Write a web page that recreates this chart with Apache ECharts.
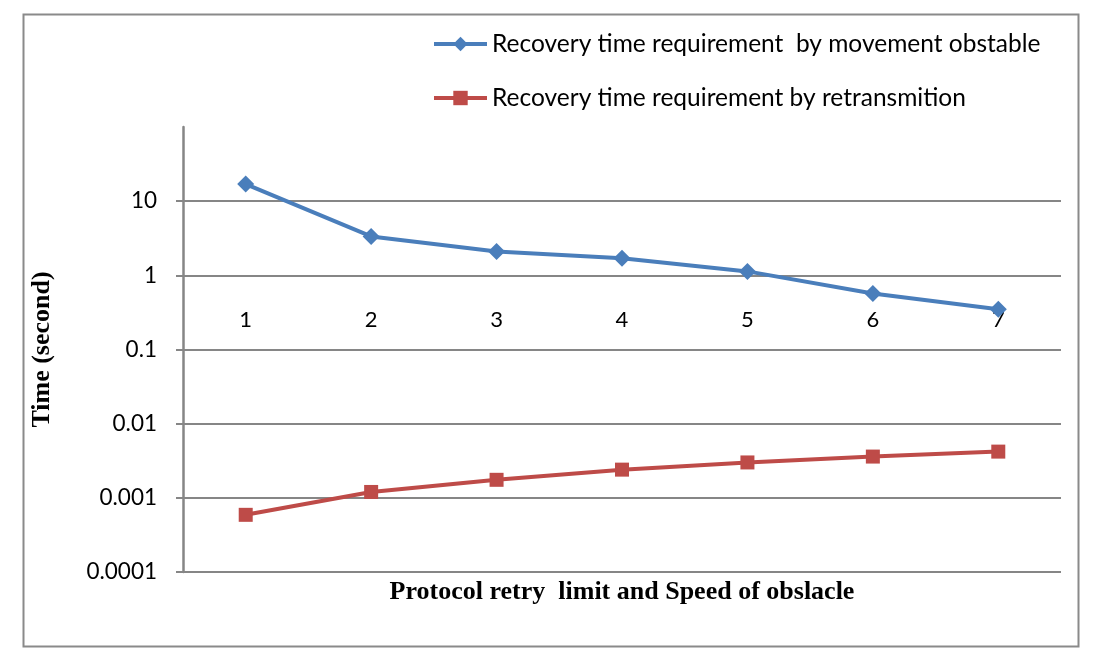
<!DOCTYPE html>
<html>
<head>
<meta charset="utf-8">
<script src="https://cdn.jsdelivr.net/npm/echarts@6/dist/echarts.min.js"></script>
<style>html,body{margin:0;padding:0;background:#fff}#c{width:1095px;height:664px}</style>
</head>
<body>
<div id="c"></div>
<script>
const categories = ['1', '2', '3', '4', '5', '6', '7'];
const movementSeriesName = 'Recovery time requirement  by movement obstable';
const retransSeriesName = 'Recovery time requirement by retransmition';
const movementValues = [17, 3.35, 2.1, 1.7, 1.13, 0.57, 0.35];
const retransValues = [0.00059, 0.0012, 0.00175, 0.0024, 0.003, 0.0036, 0.0042];
const yTickLabels = ['0.0001', '0.001', '0.01', '0.1', '1', '10', '100'];
const yAxisTitle = 'Time (second)';
const xAxisTitle = 'Protocol retry  limit and Speed of obslacle';

const chart = echarts.init(document.getElementById('c'), null, {renderer: 'canvas'});
const grey = '#868686';
const tickFont = 'Lato, "Open Sans", sans-serif';
chart.setOption({
  animation: false,
  backgroundColor: '#fff',
  grid: {left: 183, right: 34, top: 127, bottom: 92, containLabel: false, outerBoundsMode: 'none'},
  legend: {
    orient: 'vertical', left: 427, top: 26, itemWidth: 53, itemHeight: 18, itemGap: 28,
    lineStyle: {width: 4},
    textStyle: {fontFamily: tickFont, fontSize: 24.5, lineHeight: 26, color: '#000'},
    data: [movementSeriesName, retransSeriesName]
  },
  xAxis: {
    type: 'category', data: categories, boundaryGap: true, position: 'bottom', offset: -296,
    axisLine: {show: false}, axisTick: {show: false},
    axisLabel: {margin: 33, fontFamily: tickFont, fontSize: 22, color: '#000'},
    splitLine: {show: false}
  },
  yAxis: {
    type: 'log', logBase: 10, min: 0.0001, max: 100,
    name: yAxisTitle, nameLocation: 'middle', nameRotate: 90, nameGap: 128,
    nameTextStyle: {fontFamily: '"Liberation Serif", "DejaVu Serif", serif', fontWeight: 'bold', fontSize: 26, color: '#000'},
    axisLine: {show: true, lineStyle: {color: grey, width: 2.5}},
    axisTick: {show: true, length: 7, lineStyle: {color: grey, width: 2}},
    axisLabel: {margin: 26, fontFamily: tickFont, fontSize: 22.5, color: '#000', showMaxLabel: false,
      formatter: function (v) {
        const i = Math.round(Math.log10(v)) + 4;
        return yTickLabels[i] !== undefined ? yTickLabels[i] : '';
      }},
    splitLine: {show: true, showMaxLine: false, lineStyle: {color: grey, width: 2}}
  },
  series: [
    {
      name: movementSeriesName, type: 'line', data: movementValues,
      symbol: 'diamond', symbolSize: 17,
      lineStyle: {color: '#4A7EBB', width: 4},
      itemStyle: {color: '#4A7EBB'}
    },
    {
      name: retransSeriesName, type: 'line', data: retransValues,
      symbol: 'rect', symbolSize: 14,
      lineStyle: {color: '#BE4B48', width: 4},
      itemStyle: {color: '#BE4B48'}
    }
  ],
  graphic: [
    {type: 'rect', left: 21, top: 12, shape: {width: 1055, height: 632},
      style: {fill: 'none', stroke: '#8a8a8a', lineWidth: 2}, silent: true, z: -1},
    {type: 'text', x: 622, y: 592, style: {text: xAxisTitle, align: 'center', verticalAlign: 'middle',
      font: 'bold 26px "Liberation Serif", "DejaVu Serif", serif', fill: '#000'}}
  ]
});
</script>
</body>
</html>
